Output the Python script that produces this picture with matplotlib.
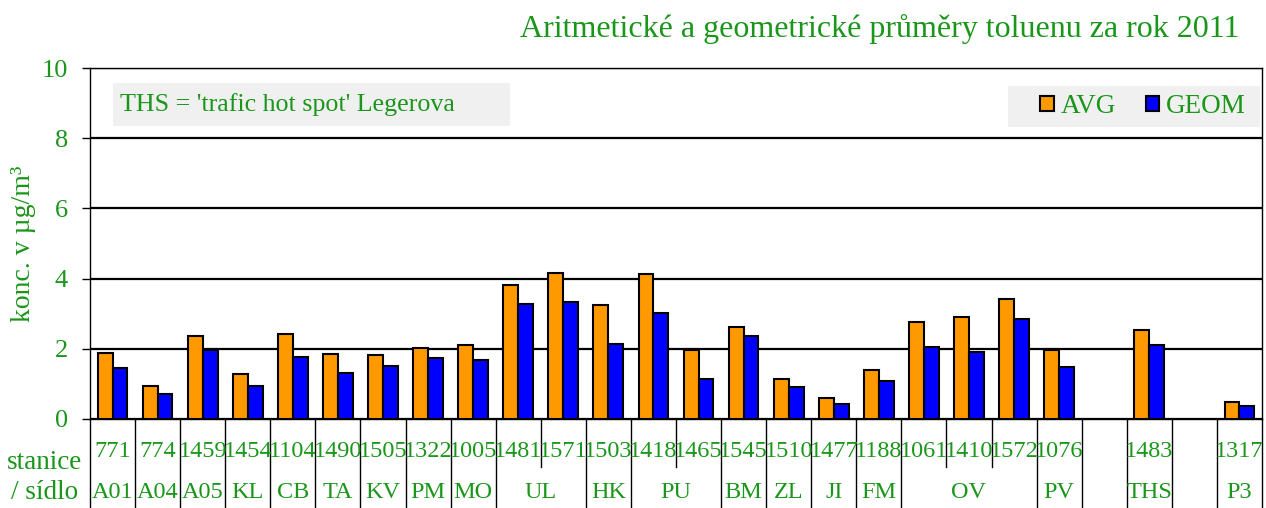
"""Aritmeticke a geometricke prumery toluenu za rok 2011 - bar chart with station table."""

import matplotlib

matplotlib.use("Agg")
import matplotlib.pyplot as plt
import numpy as np
from matplotlib.patches import Patch, Rectangle

stations = ["771", "774", "1459", "1454", "1104", "1490", "1505", "1322", "1005",
            "1481", "1571", "1503", "1418", "1465", "1545", "1510", "1477", "1188",
            "1061", "1410", "1572", "1076", "", "1483", "", "1317"]
places = ["A01", "A04", "A05", "KL", "CB", "TA", "KV", "PM", "MO",
          "UL", "UL", "HK", "PU", "PU", "BM", "ZL", "JI", "FM",
          "OV", "OV", "OV", "PV", "", "THS", "", "P3"]
avg = [1.87, 0.94, 2.36, 1.27, 2.43, 1.86, 1.82, 2.03, 2.12,
       3.81, 4.17, 3.25, 4.13, 1.97, 2.62, 1.15, 0.59, 1.39,
       2.75, 2.91, 3.41, 1.96, np.nan, 2.53, np.nan, 0.48]
geom = [1.44, 0.71, 1.97, 0.95, 1.77, 1.30, 1.50, 1.74, 1.67,
        3.28, 3.34, 2.13, 3.02, 1.15, 2.36, 0.92, 0.43, 1.08,
        2.06, 1.90, 2.85, 1.47, np.nan, 2.10, np.nan, 0.37]

GREEN = "#1a961a"
ORANGE = "#FF9900"
BLUE = "#0000FF"
FONT = "Liberation Serif"

plt.rcParams["font.family"] = [FONT, "DejaVu Serif"]

fig = plt.figure(figsize=(12.66, 5.08), dpi=100)
ax = fig.add_axes([0.0711, 0.1752, 0.9257, 0.6909])

x = np.arange(len(stations))
w = 0.33
ax.bar(x - w / 2, avg, w, color=ORANGE, edgecolor="black", linewidth=1.5,
       label="AVG", zorder=3)
ax.bar(x + w / 2, geom, w, color=BLUE, edgecolor="black", linewidth=1.5,
       label="GEOM", zorder=3)

ax.set_xlim(-0.5, len(stations) - 0.5)
ax.set_ylim(0, 10)
ax.set_yticks(np.arange(0, 11, 2))
ax.set_xticks([])
ax.yaxis.grid(True, color="black", linewidth=1.6)
ax.set_axisbelow(True)
ax.tick_params(axis="y", colors="black", labelcolor=GREEN, labelsize=19,
               length=6, width=1, pad=10)
for sp in ax.spines.values():
    sp.set_linewidth(1.0)
ax.set_ylabel("konc. v µg/m³", color=GREEN, fontsize=20, labelpad=4)

# station table below the axis
tr = ax.get_xaxis_transform()
n = len(stations)
for i in range(n + 1):
    xb = i - 0.5
    if i == 0 or i == n or places[i] != places[i - 1]:
        y_end = -0.27
    else:
        y_end = -0.137
    ax.plot([xb, xb], [0, y_end], color="black", linewidth=1.0,
            transform=tr, clip_on=False)
for i, s in enumerate(stations):
    ax.text(i, -0.092, s, transform=tr, ha="center", va="center",
            color=GREEN, fontsize=17.5)
i = 0
while i < n:
    j = i
    while j + 1 < n and places[j + 1] == places[i]:
        j += 1
    if places[i]:
        ax.text((i + j) / 2, -0.21, places[i], transform=tr, ha="center",
                va="center", color=GREEN, fontsize=17.5)
    i = j + 1

fig.text(0.0355, 0.090, "stanice", ha="center", va="center", color=GREEN,
         fontsize=19.5)
fig.text(0.0355, 0.031, "/ sídlo", ha="center", va="center", color=GREEN,
         fontsize=19.5)

# note box
ax.add_patch(Rectangle((0.0196, 0.835), 0.339, 0.122, transform=ax.transAxes,
                       facecolor="#F0F0F0", edgecolor="none", zorder=4))
ax.text(0.026, 0.896, "THS = 'trafic hot spot' Legerova", transform=ax.transAxes,
        ha="left", va="center", color=GREEN, fontsize=18.7, zorder=5)

# legend box
ax.add_patch(Rectangle((0.7833, 0.832), 0.215, 0.117, transform=ax.transAxes,
                       facecolor="#F0F0F0", edgecolor="none", zorder=4))
handles = [Patch(facecolor=ORANGE, edgecolor="black", linewidth=1.5),
           Patch(facecolor=BLUE, edgecolor="black", linewidth=1.5)]
leg = ax.legend(handles, ["AVG", "GEOM"], loc="center left",
                bbox_to_anchor=(0.8106, 0.8905), ncol=2, frameon=False,
                fontsize=19.5, handlelength=0.5, handleheight=0.5,
                handletextpad=0.26, columnspacing=1.1, borderpad=0,
                borderaxespad=0)
leg.set_zorder(6)
for t in leg.get_texts():
    t.set_color(GREEN)

fig.text(0.979, 0.942, "Aritmetické a geometrické průměry toluenu za rok 2011",
         ha="right", va="center", color=GREEN, fontsize=23)

fig.savefig("out.png", dpi=100)
